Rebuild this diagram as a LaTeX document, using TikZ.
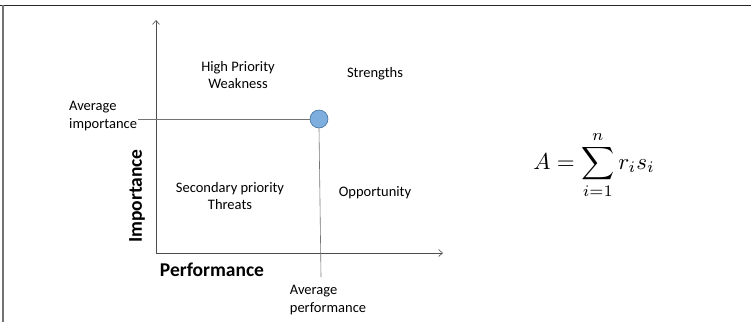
\documentclass[tikz,border=0pt]{standalone}
\usepackage{fontspec}
\setmainfont{Carlito}
\usetikzlibrary{arrows.meta}
\tikzset{
  lbl/.style={font=\fontsize{14.5}{17.5}\selectfont, align=center, inner sep=0pt},
  axislbl/.style={font=\fontsize{19.5}{22}\selectfont\bfseries, inner sep=0pt},
  axis/.style={draw=black!70, line width=0.6pt, -{Straight Barb[length=4pt,width=7pt]}},
  guide/.style={draw=black!55, line width=0.6pt}
}
\begin{document}
\begin{tikzpicture}[x=1pt,y=-1pt]
\useasboundingbox (0,0) rectangle (751,322);
\draw[black!85, line width=1pt] (0,5) -- (751,5);
\draw[black!55, line width=1.2pt] (3,5) -- (3,322);
\coordinate (o) at (156,253);
\coordinate (ytop) at (156,20);
\coordinate (xend) at (443,253);
\draw[axis] (o) -- (ytop);
\draw[axis] (o) -- (xend);
\node[circle, draw={rgb,255:red,65;green,113;blue,156}, line width=0.6pt, fill={rgb,255:red,125;green,174;blue,222}, minimum size=18pt, inner sep=0pt] (pt) at (319,119) {};
\coordinate (hl) at (138,119);
\coordinate (vl) at (321,277);
\draw[guide] (hl) -- (pt.west);
\draw[guide] (pt.south) -- (vl);
\node[lbl] (hpw) at (238,75) {High Priority\\Weakness};
\node[lbl] (str) at (375,74) {Strengths};
\node[lbl, align=left, anchor=west] (avi) at (69,116) {Average\\importance};
\node[lbl] (spt) at (230,196) {Secondary priority\\Threats};
\node[lbl] (opp) at (375,193) {Opportunity};
\node[axislbl, rotate=90] (imp) at (137,196) {Importance};
\node[axislbl] (perf) at (212,270) {Performance};
\node[lbl, align=left] (avp) at (328,300) {Average\\performance};
\node[inner sep=0pt, scale=2.3] (eq) at (594,165) {$\displaystyle A=\sum_{i=1}^{n} r_i s_i$};
\end{tikzpicture}
\end{document}
